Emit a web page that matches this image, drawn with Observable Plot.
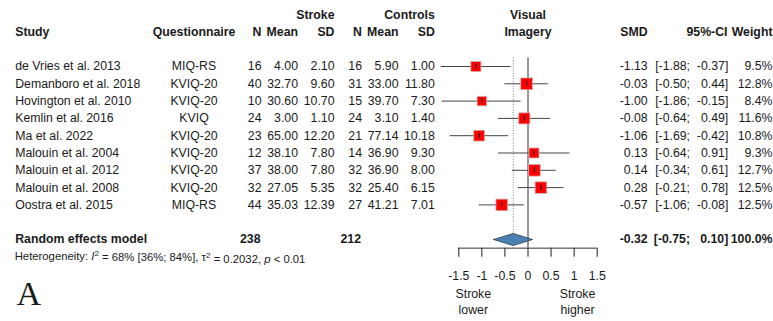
<!DOCTYPE html>
<html><head><meta charset="utf-8">
<script src="https://cdn.jsdelivr.net/npm/d3@7"></script>
<script src="https://cdn.jsdelivr.net/npm/@observablehq/plot@0.6"></script>
<style>body{margin:0;background:#fff}</style>
</head><body><div id="chart"></div>
<script>
// ---------- data ----------
const studies = ["de Vries et al. 2013","Demanboro et al. 2018","Hovington et al. 2010","Kemlin et al. 2016","Ma et al. 2022","Malouin et al. 2004","Malouin et al. 2012","Malouin et al. 2008","Oostra et al. 2015"];
const questionnaire = ["MIQ-RS","KVIQ-20","KVIQ-20","KVIQ","KVIQ-20","KVIQ-20","KVIQ-20","KVIQ-20","MIQ-RS"];
const nStroke = [16,40,10,24,23,12,37,32,44];
const meanStroke = [4.00,32.70,30.60,3.00,65.00,38.10,38.00,27.05,35.03];
const sdStroke = [2.10,9.60,10.70,1.10,12.20,7.80,7.80,5.35,12.39];
const nControl = [16,31,15,24,21,14,32,32,27];
const meanControl = [5.90,33.00,39.70,3.10,77.14,36.90,36.90,25.40,41.21];
const sdControl = [1.00,11.80,7.30,1.40,10.18,9.30,8.00,6.15,7.01];
const smd = [-1.13,-0.03,-1.00,-0.08,-1.06,0.13,0.14,0.28,-0.57];
const ciLow = [-1.88,-0.50,-1.86,-0.64,-1.69,-0.64,-0.34,-0.21,-1.06];
const ciHigh = [-0.37,0.44,-0.15,0.49,-0.42,0.91,0.61,0.78,-0.08];
const weight = [9.5,12.8,8.4,11.6,10.8,9.3,12.7,12.5,12.5];
const pooled = [-0.32, -0.75, 0.10];          // estimate, lower, upper
const pooledN = [238, 212];
const pooledWeight = 100.0;
const heterogeneity = ["68%", "36%", "84%", "0.2032", "< 0.01"];
const xTicks = [-1.5,-1,-0.5,0,0.5,1,1.5];
const groupHeaders = ["Stroke","Controls"];
const columnHeaders = ["Study","Questionnaire","N","Mean","SD","N","Mean","SD","SMD","95%-CI","Weight"];
const plotHeader = ["Visual","Imagery"];
const sideLabels = ["Stroke\nlower","Stroke\nhigher"];
const pooledLabel = "Random effects model";
const panelLetter = "A";

// ---------- layout ----------
const W = 773, H = 321, ML = 458.3, MR = 176.3, MB = 73.3;
const colX = [14.7,193.5,261,297.5,334,361.5,398,434.3,647.2,689.5,727.8,772];
const colA = ["start","middle","end","end","end","end","end","end","end","end","end","end"];
const headX = [14.7,193.5,261,297.5,334,361.5,398,434.3,647.2,727,772];
const groupX = [334,434.3];
const pooledX = [14.7,260,360.5,647.2,689.5,727.8,772];
const pooledA = ["start","end","end","end","end","end","end"];
const sideX = [472.8,577];

const fmt2 = v => v.toFixed(2);
const rows = studies.map((s,i)=>({
  row:i, est:smd[i], lo:ciLow[i], hi:ciHigh[i], w:weight[i],
  cells:[s, questionnaire[i], String(nStroke[i]), fmt2(meanStroke[i]), fmt2(sdStroke[i]),
         String(nControl[i]), fmt2(meanControl[i]), fmt2(sdControl[i]),
         fmt2(smd[i]), "["+fmt2(ciLow[i])+";", fmt2(ciHigh[i])+"]", weight[i].toFixed(1)+"%"]
}));
const pooledRow = 10;
const pooledCells = [pooledLabel, String(pooledN[0]), String(pooledN[1]), fmt2(pooled[0]),
  "["+fmt2(pooled[1])+";", fmt2(pooled[2])+"]", pooledWeight.toFixed(1)+"%"];
const dh = 0.35;
const diamond = [
  {x:pooled[1], y:pooledRow}, {x:pooled[0], y:pooledRow-dh},
  {x:pooled[2], y:pooledRow}, {x:pooled[0], y:pooledRow+dh}, {x:pooled[1], y:pooledRow}
];

const marks = [];
colX.forEach((px,c)=>{
  marks.push(Plot.text(rows,{y:"row", text:d=>d.cells[c], frameAnchor:"left", dx:px-ML, textAnchor:colA[c]}));
});
columnHeaders.forEach((t,c)=>{
  marks.push(Plot.text([t],{y:()=>-2, text:d=>d, frameAnchor:"left", dx:headX[c]-ML, textAnchor:colA[c], fontWeight:"bold"}));
});
groupHeaders.forEach((t,c)=>{
  marks.push(Plot.text([t],{y:()=>-3, text:d=>d, frameAnchor:"left", dx:groupX[c]-ML, textAnchor:"end", fontWeight:"bold"}));
});
plotHeader.forEach((t,c)=>{
  marks.push(Plot.text([t],{y:()=>-3+c, text:d=>d, frameAnchor:"middle", textAnchor:"middle", fontWeight:"bold"}));
});
pooledCells.forEach((t,c)=>{
  marks.push(Plot.text([t],{y:()=>pooledRow, text:d=>d, frameAnchor:"left", dx:pooledX[c]-ML, textAnchor:pooledA[c], fontWeight:"bold"}));
});
sideLabels.forEach((t,c)=>{
  marks.push(Plot.text([t],{y:()=>13.56, text:d=>d, frameAnchor:"left", dx:sideX[c]-ML, textAnchor:"middle", lineHeight:1.33}));
});
marks.push(Plot.text([panelLetter],{frameAnchor:"bottom-left", text:d=>d, dx:16-ML, dy:45.6, textAnchor:"start", lineAnchor:"middle", fontFamily:"'Liberation Serif','Times New Roman',serif", fontSize:34}));

marks.push(Plot.ruleX([pooled[0]],{y1:()=>-0.5, y2:()=>10.5, stroke:"#888", strokeDasharray:"1,1.6"}));
marks.push(Plot.ruleX([0],{y1:()=>-0.5, y2:()=>10.5, stroke:"#333"}));
marks.push(Plot.ruleY([10.5],{x1:xTicks[0], x2:xTicks[xTicks.length-1], stroke:"#333"}));
marks.push(Plot.ruleY(rows,{y:"row", x1:"lo", x2:"hi", stroke:"#444"}));
marks.push(Plot.dot(rows,{x:"est", y:"row", r:"w", symbol:"square", fill:"red", stroke:"#d0b0b0", strokeWidth:0.8}));
marks.push(Plot.ruleX(rows,{x:"est", y1:"row", y2:"row", insetTop:-2.5, insetBottom:-2.5, stroke:"#111"}));
marks.push(Plot.line(diamond,{x:"x", y:"y", fill:"#4a80b4", stroke:"#2e3a48", strokeWidth:0.8}));

const plot = Plot.plot({
  width:W, height:H, marginLeft:ML, marginRight:MR, marginTop:0, marginBottom:MB,
  style:{fontFamily:"'Liberation Sans', Arial, sans-serif", fontSize:"12.3px", color:"#1a1a1a", background:"#fff"},
  x:{domain:[xTicks[0], xTicks[xTicks.length-1]], ticks:xTicks, tickSize:9, tickPadding:14, tickFormat:d=>String(d), label:null},
  y:{domain:[0,10], range:[66,239], axis:null},
  r:{type:"sqrt", domain:[0,12.8], range:[0,6.6]},
  marks
});
document.getElementById("chart").appendChild(plot);

const yS = plot.scale("y");
const ht = d3.select(plot).append("text")
  .attr("x",14.7).attr("y",yS.apply(11)).attr("dy","0.32em")
  .attr("text-anchor","start")
  .attr("fill","#1a1a1a")
  .style("font-size","11.3px").style("font-family","'Liberation Sans', Arial, sans-serif");
ht.append("tspan").text("Heterogeneity: ");
ht.append("tspan").attr("font-style","italic").text("I");
ht.append("tspan").attr("dy","-0.45em").style("font-size","8px").text("2");
ht.append("tspan").attr("dy","0.45em").text(" = "+heterogeneity[0]+" ["+heterogeneity[1]+"; "+heterogeneity[2]+"], \u03c4");
ht.append("tspan").attr("dy","-0.45em").style("font-size","8px").text("2");
ht.append("tspan").attr("dy","0.45em").text(" = "+heterogeneity[3]+", ");
ht.append("tspan").attr("font-style","italic").text("p");
ht.append("tspan").text(" "+heterogeneity[4]);
</script></body></html>
